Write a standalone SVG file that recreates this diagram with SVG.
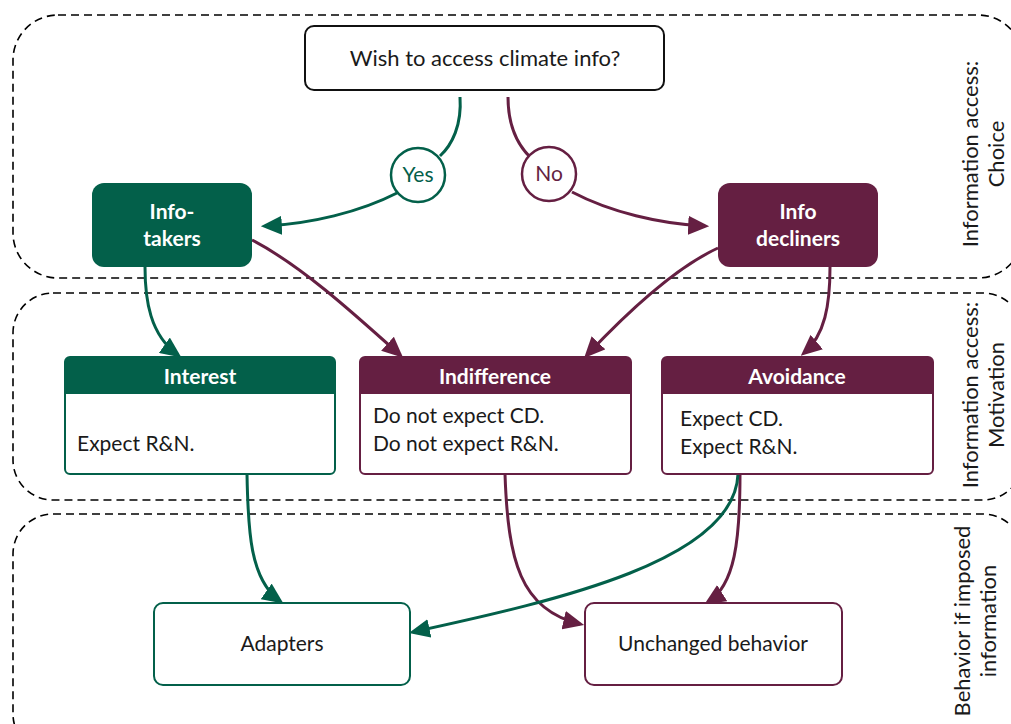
<svg xmlns="http://www.w3.org/2000/svg" width="1011" height="724" viewBox="0 0 1011 724">
<defs>
<style>
text{font-family:Lato,"Open Sans","Liberation Sans",sans-serif;font-size:21px;fill:#1a1a1a}
.panel{fill:none;stroke:#000;stroke-width:1.6;stroke-dasharray:8 5}
.g{stroke:#03604a}
.m{stroke:#651f42}
.conn path{fill:none;stroke-width:3}
.wt{fill:#fff;font-weight:bold;text-anchor:middle}
.side{font-size:22px;text-anchor:middle}
</style>
<marker id="ag" viewBox="0 0 10 10" refX="8" refY="5" markerWidth="21" markerHeight="19" markerUnits="userSpaceOnUse" orient="auto" preserveAspectRatio="none"><path d="M0,0 L10,5 L0,10 z" fill="#03604a"/></marker>
<marker id="am" viewBox="0 0 10 10" refX="8" refY="5" markerWidth="21" markerHeight="19" markerUnits="userSpaceOnUse" orient="auto" preserveAspectRatio="none"><path d="M0,0 L10,5 L0,10 z" fill="#651f42"/></marker>
</defs>
<rect width="1011" height="724" fill="#fff"/>
<g id="panels">
<rect class="panel" x="13" y="15" width="1010" height="263" rx="45"/>
<rect class="panel" x="13" y="293" width="1010" height="207" rx="40"/>
<rect class="panel" x="13" y="514" width="1010" height="240" rx="40"/>
<text class="side" transform="translate(978,154) rotate(-90)">Information access:</text>
<text class="side" transform="translate(1004,154) rotate(-90)">Choice</text>
<text class="side" transform="translate(978,395) rotate(-90)">Information access:</text>
<text class="side" transform="translate(1004,395) rotate(-90)">Motivation</text>
<text class="side" transform="translate(970,621) rotate(-90)">Behavior if imposed</text>
<text class="side" transform="translate(996,621) rotate(-90)">information</text>
</g>
<g class="conn">
<path class="g" d="M460,97 C462,125 452,145 440,156"/>
<path class="g" d="M397,193 C360,212 310,224 265,226" marker-end="url(#ag)"/>
<path class="m" d="M508,97 C508,125 518,145 530,157"/>
<path class="m" d="M572,192 C610,212 660,224 705,226" marker-end="url(#am)"/>
<path class="g" d="M145,267 C145,300 150,335 178,355" marker-end="url(#ag)"/>
<path class="m" d="M252,240 C300,265 350,310 400,355" marker-end="url(#am)"/>
<path class="m" d="M718,248 C670,270 620,320 587,355" marker-end="url(#am)"/>
<path class="m" d="M830,267 C830,305 825,335 804,353" marker-end="url(#am)"/>
<path class="g" d="M247,474 C248,530 250,580 280,601" marker-end="url(#ag)"/>
<path class="m" d="M505,474 C508,560 520,610 580,624" marker-end="url(#am)"/>
<path class="m" d="M740,474 C740,540 735,585 708,602" marker-end="url(#am)"/>
<path class="g" d="M738,474 C735,560 560,600 413,632" marker-end="url(#ag)"/>
</g>
<g id="n-wish">
<rect x="305" y="26" width="359" height="64" rx="9" fill="#fff" stroke="#111" stroke-width="2"/>
<text x="485" y="66" text-anchor="middle" style="font-size:22px">Wish to access climate info?</text>
</g>
<g id="n-yes">
<circle cx="418" cy="175" r="27" fill="#fff" stroke="#03604a" stroke-width="2.5"/>
<text x="418" y="182" text-anchor="middle" style="fill:#03604a">Yes</text>
</g>
<g id="n-no">
<circle cx="549" cy="174" r="27" fill="#fff" stroke="#651f42" stroke-width="2.5"/>
<text x="549" y="181" text-anchor="middle" style="fill:#651f42">No</text>
</g>
<g id="n-takers">
<rect x="92" y="183" width="160" height="84" rx="12" fill="#03604a"/>
<text class="wt" x="172" y="219">Info-</text>
<text class="wt" x="172" y="246">takers</text>
</g>
<g id="n-decliners">
<rect x="718" y="183" width="160" height="84" rx="12" fill="#651f42"/>
<text class="wt" x="798" y="219">Info</text>
<text class="wt" x="798" y="246">decliners</text>
</g>
<g id="n-interest">
<rect x="65" y="357" width="270" height="117" rx="5" fill="#fff" stroke="#03604a" stroke-width="2"/>
<path d="M65,394 V362 a5,5 0 0 1 5,-5 H330 a5,5 0 0 1 5,5 V394 z" fill="#03604a"/>
<text class="wt" x="200" y="384">Interest</text>
<text x="77" y="451">Expect R&amp;N.</text>
</g>
<g id="n-indifference">
<rect x="360" y="357" width="271" height="117" rx="5" fill="#fff" stroke="#651f42" stroke-width="2"/>
<path d="M360,394 V362 a5,5 0 0 1 5,-5 H626 a5,5 0 0 1 5,5 V394 z" fill="#651f42"/>
<text class="wt" x="495" y="384">Indifference</text>
<text x="373" y="423">Do not expect CD.</text>
<text x="373" y="451">Do not expect R&amp;N.</text>
</g>
<g id="n-avoidance">
<rect x="662" y="357" width="271" height="117" rx="5" fill="#fff" stroke="#651f42" stroke-width="2"/>
<path d="M662,394 V362 a5,5 0 0 1 5,-5 H928 a5,5 0 0 1 5,5 V394 z" fill="#651f42"/>
<text class="wt" x="797" y="384">Avoidance</text>
<text x="680" y="426">Expect CD.</text>
<text x="680" y="454">Expect R&amp;N.</text>
</g>
<g id="n-adapters">
<rect x="154" y="603" width="256" height="82" rx="9" fill="#fff" stroke="#03604a" stroke-width="2"/>
<text x="282" y="651" text-anchor="middle">Adapters</text>
</g>
<g id="n-unchanged">
<rect x="585" y="603" width="257" height="82" rx="9" fill="#fff" stroke="#651f42" stroke-width="2"/>
<text x="713" y="651" text-anchor="middle">Unchanged behavior</text>
</g>
</svg>
